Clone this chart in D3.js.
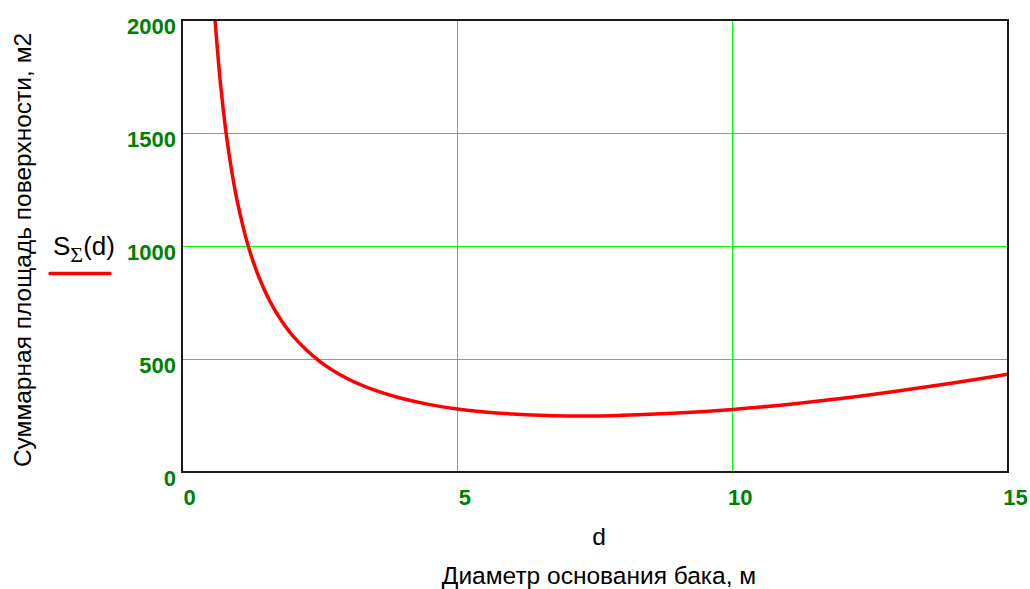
<!DOCTYPE html>
<html>
<head>
<meta charset="utf-8">
<script src="https://cdn.jsdelivr.net/npm/d3@7"></script>
<style>
  html, body { margin: 0; padding: 0; background: #fff; }
  svg { display: block; font-family: Arial, "Liberation Sans", sans-serif; }
</style>
</head>
<body>
<svg id="chart" width="1030" height="589"></svg>
<script>
// Data: diameter d (m) and total surface S(d) (m2)
const dValues = [0.6, 0.7, 0.8, 0.9, 1.0, 1.2, 1.4, 1.6, 1.8, 2.0, 2.5, 3.0, 3.5, 4.0, 4.5,
                 5.0, 5.5, 6.0, 6.5, 7.0, 7.5, 8.0, 8.5, 9.0, 9.5, 10, 11, 12, 13, 14, 15];
const sValues = [2000, 1715, 1501, 1335, 1202, 1002, 860, 754, 672, 606, 490, 414, 362, 325, 298,
                 279, 266, 257, 251, 248, 248, 251, 255, 261, 268, 277, 299, 326, 358, 394, 433];
const xTicks = [0, 5, 10, 15];
const yTicks = [0, 500, 1000, 1500, 2000];
const xTitle = "Диаметр основания бака, м";
const xVarLabel = "d";
const yTitle = "Суммарная площадь поверхности, м2";

const svg = d3.select("#chart");
const pLeft = 182, pRight = 1008, pTop = 20, pBottom = 472;

const x = d3.scaleLinear().domain([0, 15]).range([pLeft, pRight]);
const y = d3.scaleLinear().domain([0, 2000]).range([pBottom, pTop]);

const tickColor = "#008000";
const gridColor = "#00ff00";

// Grid lines
svg.append("g").selectAll("line")
  .data(xTicks.filter(t => t > 0 && t < 15))
  .join("line")
  .attr("x1", d => x(d)).attr("x2", d => x(d))
  .attr("y1", pTop).attr("y2", pBottom)
  .attr("stroke", gridColor).attr("stroke-width", 1)
  .attr("shape-rendering", "crispEdges");
svg.append("g").selectAll("line")
  .data(yTicks.filter(t => t > 0 && t < 2000))
  .join("line")
  .attr("x1", pLeft).attr("x2", pRight)
  .attr("y1", d => y(d)).attr("y2", d => y(d))
  .attr("stroke", gridColor).attr("stroke-width", 1)
  .attr("shape-rendering", "crispEdges");

// Curve
const pts = dValues.map((d, i) => [d, sValues[i]]);
const line = d3.line().x(d => x(d[0])).y(d => y(d[1])).curve(d3.curveCatmullRom.alpha(0.5));
svg.append("defs").append("clipPath").attr("id", "clip")
  .append("rect").attr("x", pLeft).attr("y", pTop).attr("width", pRight - pLeft).attr("height", pBottom - pTop);
svg.append("path")
  .datum(pts)
  .attr("d", line)
  .attr("fill", "none")
  .attr("stroke", "#ff0000")
  .attr("stroke-width", 3.5)
  .attr("clip-path", "url(#clip)");

// Frame
svg.append("rect")
  .attr("x", pLeft).attr("y", pTop)
  .attr("width", pRight - pLeft).attr("height", pBottom - pTop)
  .attr("fill", "none").attr("stroke", "#1a1a1a").attr("stroke-width", 2);

// Axes tick labels (via d3 axes, domain/ticks hidden)
const xAxis = svg.append("g")
  .attr("transform", `translate(0,${pBottom})`)
  .call(d3.axisBottom(x).tickValues(xTicks).tickFormat(d3.format("d")).tickSize(0).tickPadding(0));
xAxis.select(".domain").remove();
xAxis.selectAll("text")
  .attr("y", 33).attr("dy", null).attr("dx", 7)
  .attr("fill", tickColor)
  .style("font-size", "22px").style("font-weight", "bold")
  .style("font-family", "Arial, 'Liberation Sans', sans-serif");

const yAxis = svg.append("g")
  .attr("transform", `translate(${pLeft},0)`)
  .call(d3.axisLeft(y).tickValues(yTicks).tickFormat(d3.format("d")).tickSize(0).tickPadding(0));
yAxis.select(".domain").remove();
yAxis.selectAll("text")
  .attr("x", -6).attr("dy", null).attr("y", 13)
  .attr("text-anchor", "end")
  .attr("fill", tickColor)
  .style("font-size", "22px").style("font-weight", "bold")
  .style("font-family", "Arial, 'Liberation Sans', sans-serif");

// X axis titles
svg.append("text")
  .attr("x", 599).attr("y", 545)
  .attr("text-anchor", "middle")
  .attr("fill", "#000").style("font-size", "24.5px")
  .text(xVarLabel);
svg.append("text")
  .attr("x", 599).attr("y", 584)
  .attr("text-anchor", "middle")
  .attr("fill", "#000").style("font-size", "24.5px")
  .text(xTitle);

// Y axis title
svg.append("text")
  .attr("transform", "translate(31,250) rotate(-90)")
  .attr("text-anchor", "middle")
  .attr("fill", "#000").style("font-size", "24.5px")
  .text(yTitle);

// Legend
const leg = svg.append("text")
  .attr("x", 53).attr("y", 255)
  .attr("fill", "#000").style("font-size", "26px");
leg.append("tspan").text("S");
leg.append("tspan").attr("dy", 7).style("font-family", "'Liberation Serif', 'DejaVu Serif', serif")
  .style("font-size", "22px").text("Σ");
leg.append("tspan").attr("dy", -7).text("(d)");
svg.append("line")
  .attr("x1", 50).attr("x2", 110).attr("y1", 273.5).attr("y2", 273.5)
  .attr("stroke", "#ff0000").attr("stroke-width", 3.5).attr("stroke-linecap", "round");
</script>
</body>
</html>
